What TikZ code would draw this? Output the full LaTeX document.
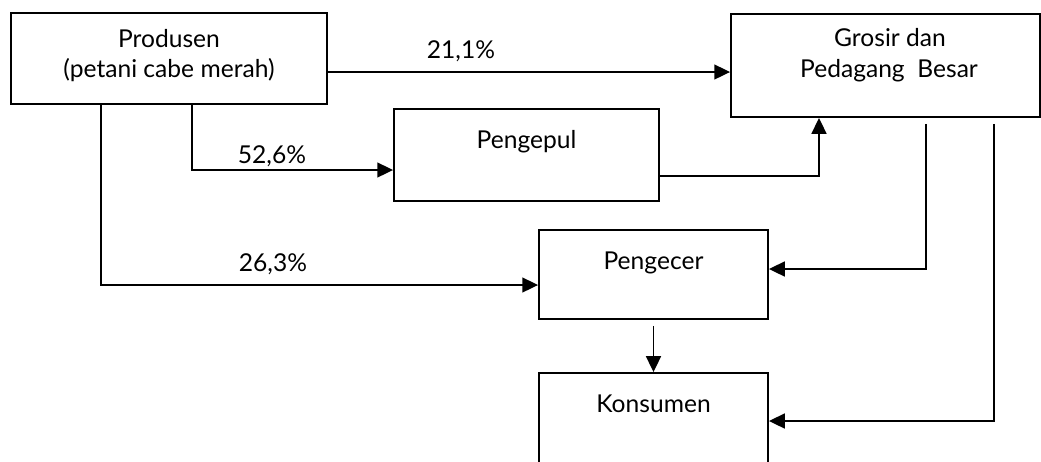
\documentclass[tikz,border=0pt]{standalone}
\usepackage{fontspec}
\setmainfont{Lato}
\usetikzlibrary{arrows.meta}

\begin{document}
\begin{tikzpicture}[x=0.02cm,y=-0.02cm,
  box/.style={draw,line width=1.1pt,inner sep=0pt},
  txt/.style={font=\fontsize{14}{16}\selectfont,inner sep=0pt,anchor=base},
  arr/.style={line width=0.9pt,-{Triangle[length=9pt,width=8.5pt]}}]
\useasboundingbox (0,0) rectangle (1041,461);

\node[box,minimum width=6.32cm,minimum height=1.82cm] (prod) at (169,58.5) {};
\node[box,minimum width=6.18cm,minimum height=2.06cm] (grosir) at (885.5,65.5) {};
\node[box,minimum width=5.3cm,minimum height=1.84cm] (pengepul) at (526.5,155) {};
\node[box,minimum width=4.58cm,minimum height=1.78cm] (pengecer) at (653.5,274.5) {};
\node[box,minimum width=4.58cm,minimum height=2.4cm] (konsumen) at (653.5,433) {};

\node[txt] (prodA) at (169,47.3) {Produsen};
\node[txt] (prodB) at (169,77.3) {(petani cabe merah)};
\node[txt] (grosirA) at (890,46.7) {Grosir dan};
\node[txt] (grosirB) at (889,77.3) {Pedagang\ \ Besar};
\node[txt] (pengepulA) at (526.5,148) {Pengepul};
\node[txt] (pengecerA) at (653.5,269) {Pengecer};
\node[txt] (konsumenA) at (653.5,412) {Konsumen};

\node[txt] (lab1) at (461,58) {21,1\%};
\node[txt] (lab2) at (272,163) {52,6\%};
\node[txt] (lab3) at (273,271) {26,3\%};

\coordinate (k1) at (327,72);
\coordinate (k2) at (192,170);
\coordinate (k3) at (101,285);
\coordinate (k4) at (819,176);
\coordinate (k5) at (926,269);
\coordinate (k6) at (994,421);

\draw[arr] (prod.east |- k1) -- (grosir.west |- k1);
\draw[arr] (prod.south -| k2) |- (pengepul.west |- k2);
\draw[arr] (prod.south -| k3) |- (pengecer.west |- k3);
\draw[arr] (pengepul.east |- k4) -| (grosir.south -| k4);
\draw[arr,shorten <=0.12cm] (grosir.south -| k5) |- (pengecer.east |- k5);
\draw[arr,shorten <=0.12cm] (grosir.south -| k6) |- (konsumen.east |- k6);
\draw[arr,shorten <=0.12cm] (pengecer) -- (konsumen);
\end{tikzpicture}
\end{document}
